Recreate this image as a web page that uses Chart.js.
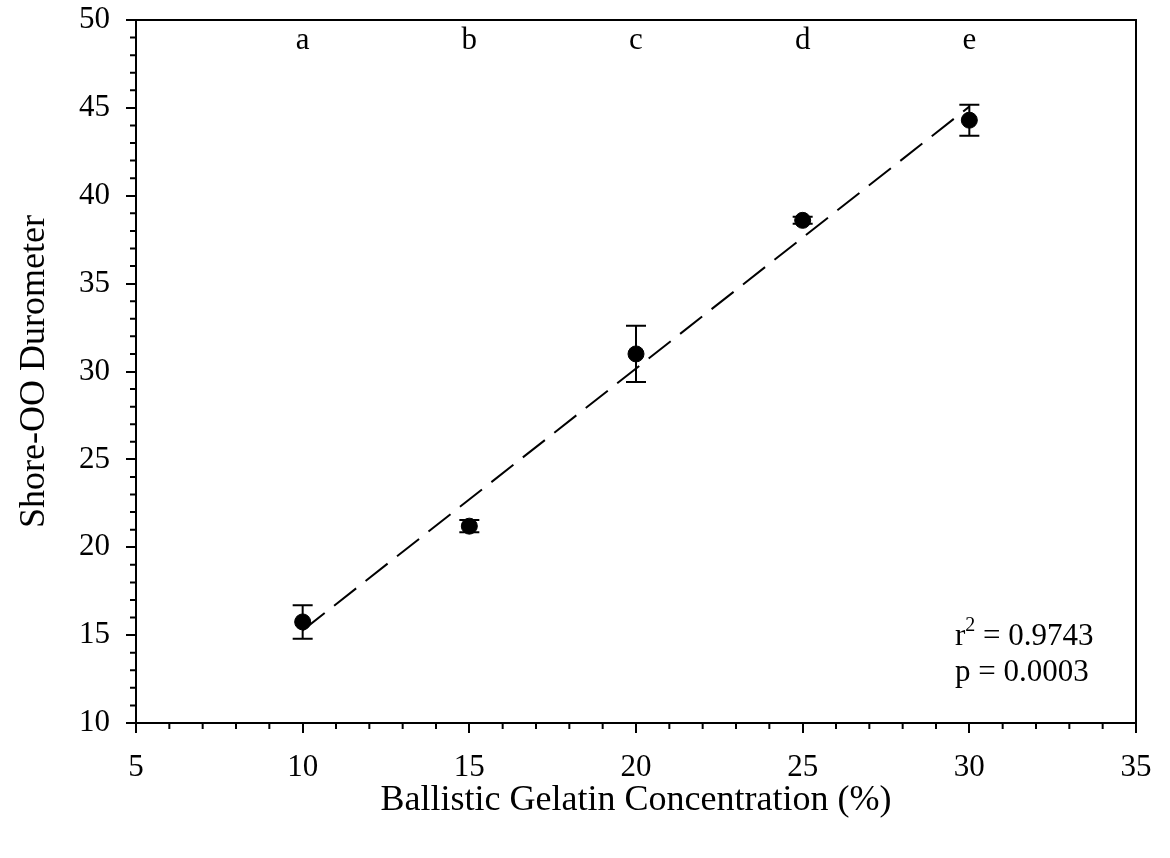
<!DOCTYPE html>
<html>
<head>
	<title>Shore-OO Durometer vs Gelatin Concentration</title>
	<script src="https://cdn.jsdelivr.net/npm/chart.js"></script>
	<style>
		body {
			margin: 0;
			background: #fff;
		}
		canvas {
			display: block;
		}
	</style>
</head>
<body>
	<canvas id="myChart" width="1170" height="858"></canvas>
	<script>
		// Measured hardness per gelatin concentration
		var concentration = [10, 15, 20, 25, 30];
		var durometer = [15.75, 21.2, 31.0, 38.6, 44.3];
		var errorBars = [0.95, 0.35, 1.6, 0.2, 0.88];
		var groupLetters = ['a', 'b', 'c', 'd', 'e'];
		var letterLevel = 48.8;
		var statsText = ['= 0.9743', 'p = 0.0003'];

		var serif = "'Liberation Serif', 'Times New Roman', serif";

		// least squares fit for the dashed trend line
		function linearFit(xs, ys) {
			var n = xs.length, mx = 0, my = 0, sxy = 0, sxx = 0;
			for (var i = 0; i < n; i++) { mx += xs[i] / n; my += ys[i] / n; }
			for (var j = 0; j < n; j++) {
				sxy += (xs[j] - mx) * (ys[j] - my);
				sxx += (xs[j] - mx) * (xs[j] - mx);
			}
			var slope = sxy / sxx;
			return { slope: slope, intercept: my - slope * mx };
		}
		var fit = linearFit(concentration, durometer);
		var fitX = [concentration[0], concentration[concentration.length - 1]];
		var fitLine = fitX.map(function(x) { return { x: x, y: fit.intercept + fit.slope * x }; });

		var points = concentration.map(function(x, i) { return { x: x, y: durometer[i] }; });

		// frame, minor ticks, error bars, letters and stats
		var extras = {
			id: 'extras',
			beforeDatasetsDraw: function(chart) {
				var ctx = chart.ctx, xs = chart.scales.x, ys = chart.scales.y;
				ctx.save();
				ctx.strokeStyle = '#000';
				ctx.lineWidth = 2;
				for (var i = 0; i < concentration.length; i++) {
					var px = xs.getPixelForValue(concentration[i]);
					var top = ys.getPixelForValue(durometer[i] + errorBars[i]);
					var bot = ys.getPixelForValue(durometer[i] - errorBars[i]);
					ctx.beginPath();
					ctx.moveTo(px, top); ctx.lineTo(px, bot);
					ctx.moveTo(px - 10, top); ctx.lineTo(px + 10, top);
					ctx.moveTo(px - 10, bot); ctx.lineTo(px + 10, bot);
					ctx.stroke();
				}
				ctx.restore();
			},
			afterDraw: function(chart) {
				var ctx = chart.ctx, a = chart.chartArea, xs = chart.scales.x, ys = chart.scales.y;
				ctx.save();
				ctx.strokeStyle = '#000';
				ctx.lineWidth = 2;
				ctx.beginPath();
				ctx.moveTo(a.left, a.top); ctx.lineTo(a.right, a.top); ctx.lineTo(a.right, a.bottom);
				// minor ticks every unit
				for (var v = xs.min + 1; v < xs.max; v++) {
					if (v % 5 === 0) continue;
					var px = xs.getPixelForValue(v);
					ctx.moveTo(px, a.bottom); ctx.lineTo(px, a.bottom + 6);
				}
				for (var w = ys.min + 1; w < ys.max; w++) {
					if (w % 5 === 0) continue;
					var py = ys.getPixelForValue(w);
					ctx.moveTo(a.left, py); ctx.lineTo(a.left - 6, py);
				}
				ctx.stroke();

				ctx.fillStyle = '#000';
				ctx.font = '31px ' + serif;
				ctx.textAlign = 'center';
				ctx.textBaseline = 'middle';
				for (var i = 0; i < groupLetters.length; i++) {
					ctx.fillText(groupLetters[i], xs.getPixelForValue(concentration[i]), ys.getPixelForValue(letterLevel));
				}

				ctx.textAlign = 'left';
				var sx = 955;
				ctx.fillText('r', sx, 637);
				var rw = ctx.measureText('r').width;
				ctx.font = '20px ' + serif;
				ctx.fillText('2', sx + rw, 626);
				var sw = ctx.measureText('2').width;
				ctx.font = '31px ' + serif;
				ctx.fillText(' ' + statsText[0], sx + rw + sw, 637);
				ctx.fillText(statsText[1], sx, 673);
				ctx.restore();
			}
		};

		var ctx = document.getElementById('myChart').getContext('2d');
		var chart = new Chart(ctx, {
			type: 'scatter',
			data: {
				datasets: [{
					type: 'line',
					data: fitLine,
					borderColor: '#000',
					borderWidth: 2,
					borderDash: [28, 12],
					pointRadius: 0,
					fill: false
				}, {
					data: points,
					backgroundColor: '#000',
					borderColor: '#000',
					pointRadius: 8,
					pointHoverRadius: 8
				}]
			},
			options: {
				responsive: false,
				animation: false,
				layout: { padding: { top: 20, right: 34 } },
				plugins: {
					legend: { display: false },
					tooltip: { enabled: false }
				},
				scales: {
					x: {
						type: 'linear',
						min: 5, max: 35,
						afterFit: function(scale) { scale.height = 135; },
						border: { color: '#000', width: 2 },
						grid: { drawOnChartArea: false, color: '#000', lineWidth: 2, tickLength: 10 },
						ticks: { stepSize: 5, color: '#000', padding: 16, font: { family: serif, size: 31 } },
						title: {
							display: true,
							text: 'Ballistic Gelatin Concentration (%)',
							color: '#000',
							font: { family: serif, size: 36 },
							padding: { top: 0, bottom: 36 }
						}
					},
					y: {
						min: 10, max: 50,
						afterFit: function(scale) {
							scale.width = 136;
							// let the top label overhang the padding
							scale.paddingTop = 0;
							scale.paddingBottom = 0;
						},
						border: { color: '#000', width: 2 },
						grid: { drawOnChartArea: false, color: '#000', lineWidth: 2, tickLength: 10 },
						ticks: { stepSize: 5, color: '#000', padding: 16, font: { family: serif, size: 31 } },
						title: {
							display: true,
							text: 'Shore-OO Durometer',
							color: '#000',
							font: { family: serif, size: 36 },
							padding: { top: 13, bottom: 0 }
						}
					}
				}
			},
			plugins: [extras]
		});
	</script>
</body>
</html>
